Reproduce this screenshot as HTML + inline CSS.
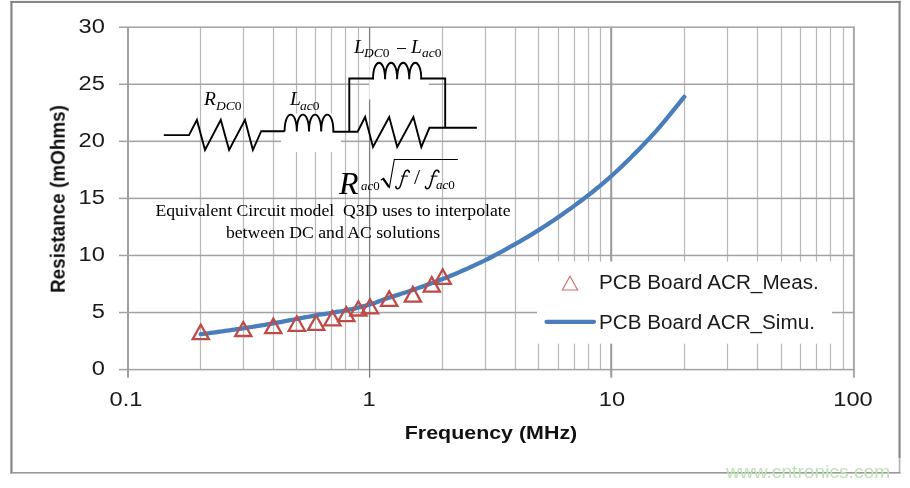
<!DOCTYPE html>
<html><head><meta charset="utf-8"><title>chart</title>
<style>
html,body{margin:0;padding:0;background:#fff;}
body{width:910px;height:488px;position:relative;overflow:hidden;font-family:"Liberation Sans",sans-serif;}
.t{position:absolute;white-space:nowrap;line-height:1;color:#1a1a1a;will-change:transform;}
.yl{font-size:19.7px;right:804.9px;text-align:right;transform-origin:100% 50%;transform:scaleX(1.2);}
.xl{font-size:19.7px;transform:translateX(-50%) scaleX(1.2);top:389.8px;}
.s{font-family:"Liberation Serif",serif;color:#000;}
.i{font-style:italic;}
</style></head><body>
<svg width="910" height="488" viewBox="0 0 910 488" style="position:absolute;left:0;top:0">
<rect x="0" y="0" width="910" height="488" fill="#fff"/>
<rect x="10.4" y="0.9" width="2.1" height="472.7" fill="#828282"/>
<rect x="10.4" y="0.9" width="890.2" height="2.1" fill="#868686"/>
<rect x="898.5" y="0.9" width="2.1" height="457" fill="#828282"/>
<rect x="898.7" y="457.9" width="1.7" height="15.6" fill="#b4b4b4"/>
<rect x="10.4" y="472" width="890" height="1.6" fill="#9a9a9a"/>
<g id="grid">
<rect x="199.9" y="27.20" width="1.2" height="342.40" fill="#b8b8b8"/>
<rect x="242.9" y="27.20" width="1.2" height="342.40" fill="#b8b8b8"/>
<rect x="272.9" y="27.20" width="1.2" height="342.40" fill="#b8b8b8"/>
<rect x="295.9" y="27.20" width="1.2" height="342.40" fill="#b8b8b8"/>
<rect x="314.9" y="27.20" width="1.2" height="342.40" fill="#b8b8b8"/>
<rect x="330.9" y="27.20" width="1.2" height="342.40" fill="#b8b8b8"/>
<rect x="344.9" y="27.20" width="1.2" height="342.40" fill="#b8b8b8"/>
<rect x="357.9" y="27.20" width="1.2" height="342.40" fill="#b8b8b8"/>
<rect x="441.9" y="27.20" width="1.2" height="342.40" fill="#b8b8b8"/>
<rect x="484.9" y="27.20" width="1.2" height="342.40" fill="#b8b8b8"/>
<rect x="514.9" y="27.20" width="1.2" height="342.40" fill="#b8b8b8"/>
<rect x="537.9" y="27.20" width="1.2" height="342.40" fill="#b8b8b8"/>
<rect x="557.9" y="27.20" width="1.2" height="342.40" fill="#b8b8b8"/>
<rect x="573.9" y="27.20" width="1.2" height="342.40" fill="#b8b8b8"/>
<rect x="587.9" y="27.20" width="1.2" height="342.40" fill="#b8b8b8"/>
<rect x="599.9" y="27.20" width="1.2" height="342.40" fill="#b8b8b8"/>
<rect x="683.9" y="27.20" width="1.2" height="342.40" fill="#b8b8b8"/>
<rect x="726.9" y="27.20" width="1.2" height="342.40" fill="#b8b8b8"/>
<rect x="756.9" y="27.20" width="1.2" height="342.40" fill="#b8b8b8"/>
<rect x="780.9" y="27.20" width="1.2" height="342.40" fill="#b8b8b8"/>
<rect x="799.9" y="27.20" width="1.2" height="342.40" fill="#b8b8b8"/>
<rect x="815.9" y="27.20" width="1.2" height="342.40" fill="#b8b8b8"/>
<rect x="829.9" y="27.20" width="1.2" height="342.40" fill="#b8b8b8"/>
<rect x="842.9" y="27.20" width="1.2" height="342.40" fill="#b8b8b8"/>
<rect x="119" y="368.85" width="735.90" height="1.5" fill="#a2a2a2"/>
<rect x="119" y="311.78" width="735.90" height="1.5" fill="#a2a2a2"/>
<rect x="119" y="254.72" width="735.90" height="1.5" fill="#a2a2a2"/>
<rect x="119" y="197.65" width="735.90" height="1.5" fill="#a2a2a2"/>
<rect x="119" y="140.58" width="735.90" height="1.5" fill="#a2a2a2"/>
<rect x="119" y="83.52" width="735.90" height="1.5" fill="#a2a2a2"/>
<rect x="119" y="26.45" width="735.90" height="1.5" fill="#a2a2a2"/>
<rect x="127.00" y="27.20" width="2" height="350.50" fill="#a0a0a0"/>
<rect x="368.95" y="27.20" width="1.3" height="350.50" fill="#808080"/>
<rect x="610.20" y="27.20" width="2" height="350.50" fill="#9a9a9a"/>
<rect x="852.90" y="27.20" width="2" height="350.50" fill="#a8a8a8"/>
</g>
<rect x="281" y="113.5" width="60" height="38.5" fill="#fff"/>
<rect x="369.2" y="58.3" width="59.6" height="41.2" fill="#fff"/>
<rect x="537" y="261.5" width="295" height="82.2" fill="#fff"/>
<polyline points="200.73,334.21 203.14,333.90 205.56,333.60 207.98,333.28 210.39,332.97 212.81,332.65 215.22,332.32 217.64,332.00 220.06,331.67 222.47,331.33 224.89,330.99 227.30,330.65 229.72,330.30 232.14,329.95 234.55,329.60 236.97,329.24 239.38,328.88 241.80,328.51 244.22,328.14 246.63,327.76 249.05,327.38 251.46,327.00 253.88,326.61 256.30,326.21 258.71,325.82 261.13,325.41 263.54,325.01 265.96,324.59 268.38,324.18 270.79,323.76 273.21,323.33 275.62,322.90 278.04,322.46 280.46,322.02 282.87,321.57 285.29,321.12 287.70,320.67 290.12,320.20 292.54,319.74 294.95,319.26 297.37,318.79 299.78,318.32 302.20,317.88 304.62,317.44 307.03,317.00 309.45,316.56 311.86,316.10 314.28,315.61 316.70,315.10 319.11,314.67 321.53,314.34 323.94,314.04 326.36,313.74 328.78,313.39 331.19,312.95 333.61,312.42 336.02,312.00 338.44,311.66 340.86,311.34 343.27,310.96 345.69,310.47 348.10,309.89 350.52,309.34 352.94,308.82 355.35,308.28 357.77,307.69 360.18,307.06 362.60,306.43 365.02,305.81 367.43,305.17 369.85,304.51 372.26,303.76 374.68,302.93 377.10,302.04 379.51,301.12 381.93,300.20 384.34,299.30 386.76,298.45 389.18,297.67 391.59,296.92 394.01,296.16 396.42,295.40 398.84,294.62 401.26,293.83 403.67,293.04 406.09,292.24 408.50,291.42 410.92,290.60 413.34,289.77 415.75,288.93 418.17,288.09 420.58,287.24 423.00,286.38 425.42,285.51 427.83,284.64 430.25,283.75 432.66,282.85 435.08,281.94 437.50,281.01 439.91,280.08 442.33,279.12 444.74,278.16 447.16,277.18 449.58,276.19 451.99,275.19 454.41,274.18 456.82,273.16 459.24,272.12 461.66,271.08 464.07,270.02 466.49,268.95 468.90,267.86 471.32,266.77 473.74,265.66 476.15,264.54 478.57,263.40 480.98,262.25 483.40,261.09 485.82,259.92 488.23,258.72 490.65,257.49 493.06,256.23 495.48,254.95 497.90,253.66 500.31,252.34 502.73,251.02 505.14,249.68 507.56,248.33 509.98,246.98 512.39,245.62 514.81,244.26 517.22,242.90 519.64,241.52 522.06,240.12 524.47,238.71 526.89,237.28 529.30,235.84 531.72,234.37 534.14,232.90 536.55,231.40 538.97,229.89 541.38,228.36 543.80,226.81 546.22,225.24 548.63,223.66 551.05,222.05 553.46,220.43 555.88,218.79 558.30,217.13 560.71,215.46 563.13,213.78 565.54,212.08 567.96,210.36 570.38,208.63 572.79,206.88 575.21,205.12 577.62,203.33 580.04,201.53 582.46,199.70 584.87,197.86 587.29,195.99 589.70,194.10 592.12,192.19 594.54,190.25 596.95,188.29 599.37,186.30 601.78,184.29 604.20,182.24 606.62,180.17 609.03,178.06 611.45,175.93 613.88,173.76 616.30,171.54 618.73,169.29 621.16,167.00 623.58,164.67 626.01,162.32 628.44,159.93 630.87,157.52 633.29,155.08 635.72,152.62 638.15,150.14 640.57,147.64 643.00,145.12 645.43,142.59 647.85,140.04 650.28,137.44 652.71,134.79 655.14,132.07 657.56,129.31 659.99,126.51 662.42,123.66 664.84,120.77 667.27,117.86 669.70,114.91 672.12,111.94 674.55,108.95 676.98,105.94 679.41,102.92 681.83,99.88 684.26,96.85" fill="none" stroke="#4a7ebb" stroke-width="4.3" stroke-linecap="round" stroke-linejoin="round"/>
<path d="M200.8 324.7 L208.9 339.1 L192.7 339.1 Z" fill="none" stroke="#be4b48" stroke-width="2.3" stroke-linejoin="miter"/>
<path d="M243.3 322.0 L251.4 336.0 L235.2 336.0 Z" fill="none" stroke="#be4b48" stroke-width="2.3" stroke-linejoin="miter"/>
<path d="M273.3 318.6 L281.4 333.1 L265.2 333.1 Z" fill="none" stroke="#be4b48" stroke-width="2.3" stroke-linejoin="miter"/>
<path d="M296.8 316.3 L304.9 330.8 L288.7 330.8 Z" fill="none" stroke="#be4b48" stroke-width="2.3" stroke-linejoin="miter"/>
<path d="M316.2 315.5 L324.3 329.9 L308.1 329.9 Z" fill="none" stroke="#be4b48" stroke-width="2.3" stroke-linejoin="miter"/>
<path d="M332.4 311.1 L340.5 325.3 L324.3 325.3 Z" fill="none" stroke="#be4b48" stroke-width="2.3" stroke-linejoin="miter"/>
<path d="M346.3 307.0 L354.4 321.2 L338.2 321.2 Z" fill="none" stroke="#be4b48" stroke-width="2.3" stroke-linejoin="miter"/>
<path d="M358.4 301.3 L366.5 315.5 L350.3 315.5 Z" fill="none" stroke="#be4b48" stroke-width="2.3" stroke-linejoin="miter"/>
<path d="M370.0 299.2 L378.1 313.3 L361.9 313.3 Z" fill="none" stroke="#be4b48" stroke-width="2.3" stroke-linejoin="miter"/>
<path d="M389.2 291.4 L397.3 305.8 L381.1 305.8 Z" fill="none" stroke="#be4b48" stroke-width="2.3" stroke-linejoin="miter"/>
<path d="M412.9 286.9 L421.0 301.6 L404.8 301.6 Z" fill="none" stroke="#be4b48" stroke-width="2.3" stroke-linejoin="miter"/>
<path d="M431.8 277.0 L439.9 291.6 L423.7 291.6 Z" fill="none" stroke="#be4b48" stroke-width="2.3" stroke-linejoin="miter"/>
<path d="M442.7 269.3 L450.8 283.9 L434.6 283.9 Z" fill="none" stroke="#be4b48" stroke-width="2.3" stroke-linejoin="miter"/>
<path d="M570 276.2 L577.6 290 L562.4 290 Z" fill="none" stroke="#d06f6c" stroke-width="1.15"/>
<line x1="546.5" y1="321.8" x2="594" y2="321.8" stroke="#4a7ebb" stroke-width="4.2" stroke-linecap="round"/>
<path d="M163.8 135.1 H189 L196.9 119.9 L205 150 L220.8 119.9 L229.1 150 L245 119.9 L252.9 150 L261.2 131.2 H284.6" fill="none" stroke="#000" stroke-width="1.9" stroke-linejoin="miter" stroke-linecap="butt"/>
<path d="M284.6 131.6 C284.60 108.9 296.80 108.9 296.80 131.6 C296.80 108.9 309.00 108.9 309.00 131.6 C309.00 108.9 321.20 108.9 321.20 131.6 C321.20 108.9 333.40 108.9 333.40 131.6" fill="none" stroke="#000" stroke-width="1.9" stroke-linejoin="miter" stroke-linecap="butt"/>
<path d="M332.5 131.8 H357.6 L365.1 117 L373 147 L389.2 117 L397.2 147 L413.4 117 L421.3 147 L429.4 127.8 H476.9" fill="none" stroke="#000" stroke-width="1.9" stroke-linejoin="miter" stroke-linecap="butt"/>
<path d="M349.3 131.8 V78.5 H373.9" fill="none" stroke="#000" stroke-width="1.9" stroke-linejoin="miter" stroke-linecap="butt"/>
<path d="M373.0 79.2 C373.00 57.3 385.07 57.3 385.07 79.2 C385.07 57.3 397.15 57.3 397.15 79.2 C397.15 57.3 409.22 57.3 409.22 79.2 C409.23 57.3 421.30 57.3 421.30 79.2" fill="none" stroke="#000" stroke-width="1.9" stroke-linejoin="miter" stroke-linecap="butt"/>
<path d="M420.4 78.5 H445.2 V127.8" fill="none" stroke="#000" stroke-width="1.9" stroke-linejoin="miter" stroke-linecap="butt"/>
<path d="M380.8 180.3 L383.4 178.4 L389.4 187.4 L394.3 159.5 H457.8" fill="none" stroke="#000" stroke-width="1.1"/>
<path d="M383.2 178.6 L389 187.2" fill="none" stroke="#000" stroke-width="2.1"/>
<g transform="translate(0 0)"><path d="M409.3 172.3 C409.4 170.6 407.4 169.7 406 170.6 C404.8 171.4 404.2 173.2 403.6 175.4 L400.9 184.6 C400.2 187 399.2 188.7 397.6 188.7 C396.4 188.7 395.7 187.7 395.9 186.5" fill="none" stroke="#000" stroke-width="1.5" stroke-linecap="round"/><path d="M401.2 176.1 H407.9" fill="none" stroke="#000" stroke-width="1"/></g>
<g transform="translate(29.6 0)"><path d="M409.3 172.3 C409.4 170.6 407.4 169.7 406 170.6 C404.8 171.4 404.2 173.2 403.6 175.4 L400.9 184.6 C400.2 187 399.2 188.7 397.6 188.7 C396.4 188.7 395.7 187.7 395.9 186.5" fill="none" stroke="#000" stroke-width="1.5" stroke-linecap="round"/><path d="M401.2 176.1 H407.9" fill="none" stroke="#000" stroke-width="1"/></g>
</svg>
<div class="t yl" style="top:16.8px">30</div>
<div class="t yl" style="top:73.9px">25</div>
<div class="t yl" style="top:130.9px">20</div>
<div class="t yl" style="top:188.0px">15</div>
<div class="t yl" style="top:245.1px">10</div>
<div class="t yl" style="top:302.1px">5</div>
<div class="t yl" style="top:359.2px">0</div>
<div class="t xl" style="left:126px">0.1</div>
<div class="t xl" style="left:368.7px">1</div>
<div class="t xl" style="left:611.8px">10</div>
<div class="t xl" style="left:853px">100</div>
<div class="t" id="xt" style="left:490.8px;top:424.6px;font-size:17.7px;font-weight:bold;transform:translateX(-50%) scaleX(1.21);color:#111">Frequency (MHz)</div>
<div class="t" id="yt" style="left:58px;top:199.4px;font-size:20.6px;font-weight:bold;transform:translate(-50%,-50%) rotate(-90deg) scaleX(0.917);color:#111">Resistance (mOhms)</div>
<div class="t" id="lg1" style="left:599.4px;top:272.2px;font-size:20px;transform-origin:0 50%;transform:scaleX(1.035)">PCB Board ACR_Meas.</div>
<div class="t" id="lg2" style="left:599.4px;top:312.4px;font-size:20px;transform-origin:0 50%;transform:scaleX(1.033)">PCB Board ACR_Simu.</div>
<div class="t s" id="c1" style="left:332.6px;top:202.3px;font-size:17.7px;transform:translateX(-50%)">Equivalent Circuit model&nbsp; Q3D uses to interpolate</div>
<div class="t s" id="c2" style="left:332.6px;top:223.5px;font-size:17.7px;transform:translateX(-50%)">between DC and AC solutions</div>
<div class="t s i" style="left:203.6px;top:89.4px;font-size:19.5px">R</div>
<div class="t s" style="left:215.5px;top:99.2px;font-size:13.5px"><span class="i">DC</span>0</div>
<div class="t s i" style="left:289.5px;top:89.4px;font-size:19.5px">L</div>
<div class="t s" style="left:299.5px;top:99.2px;font-size:13.5px"><span class="i">ac</span>0</div>
<div class="t s i" style="left:354px;top:37.3px;font-size:19.5px">L</div>
<div class="t s" style="left:363.7px;top:46.3px;font-size:13.5px"><span class="i">DC</span>0</div>
<div class="t s" style="left:396.3px;top:38.6px;font-size:19.5px">&#8722;</div>
<div class="t s i" style="left:410.5px;top:37.3px;font-size:19.5px">L</div>
<div class="t s" style="left:421.5px;top:46.3px;font-size:13.5px"><span class="i">ac</span>0</div>
<div class="t s i" style="left:339.2px;top:167.4px;font-size:32px">R</div>
<div class="t s" style="left:361.4px;top:180.2px;font-size:12.9px"><span class="i">ac</span>0</div>
<div class="t s" style="left:414.3px;top:165.6px;font-size:22px">/</div>
<div class="t s" style="left:436.3px;top:178.3px;font-size:13.1px"><span class="i">ac</span>0</div>
<div class="t" id="wm" style="left:726px;top:462.3px;font-size:19.2px;color:#bfe3b6">www.cntronics.com</div>
</body></html>
